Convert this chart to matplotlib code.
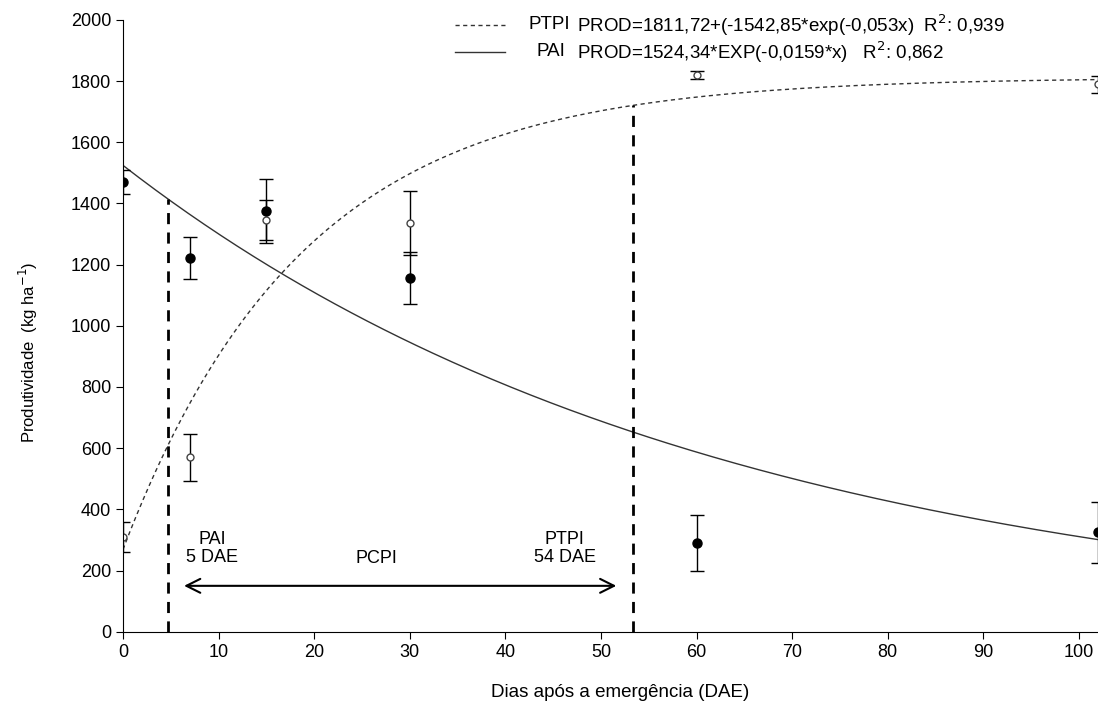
import numpy as np
import matplotlib.pyplot as plt
import matplotlib

matplotlib.rcParams['font.family'] = ['Liberation Sans', 'DejaVu Sans']

# observed means and standard errors
dias = [0, 7, 15, 30, 60, 102]
pai_obs = [1470, 1222, 1375, 1155, 290, 325]
pai_err = [40, 68, 105, 85, 90, 100]
ptpi_obs = [310, 570, 1345, 1335, 1820, 1790]
ptpi_err = [50, 77, 65, 105, 12, 28]

# fitted model coefficients (from the legend)
pai_a, pai_b = 1524.34, -0.0159
ptpi_a, ptpi_b, ptpi_c = 1811.72, -1542.85, -0.053

pai_dae = 4.7
ptpi_dae = 53.4

fig = plt.figure(figsize=(10.98, 7.09), dpi=100)
ax = fig.add_axes([0.112, 0.109, 0.888, 0.863])
ax.spines['right'].set_color('none')
ax.spines['top'].set_color('none')

x = np.linspace(0, 102, 300)
ax.plot(x, pai_a * np.exp(pai_b * x), color='#333333', lw=1)
ax.plot(x, ptpi_a + ptpi_b * np.exp(ptpi_c * x), color='#333333', lw=1,
        linestyle=(0, (3, 2.5)))

ax.errorbar(dias, pai_obs, yerr=pai_err, fmt='o', color='black', ms=6.5,
            ecolor='black', elinewidth=1, capsize=5)
ax.errorbar(dias, ptpi_obs, yerr=ptpi_err, fmt='o', mfc='white', mec='#444444',
            ms=5, ecolor='black', elinewidth=1, capsize=5)

# critical period limits
ax.plot([pai_dae, pai_dae], [0, pai_a * np.exp(pai_b * pai_dae)], color='black',
        lw=2, linestyle=(0, (4, 3)))
ax.plot([ptpi_dae, ptpi_dae], [0, ptpi_a + ptpi_b * np.exp(ptpi_c * ptpi_dae)],
        color='black', lw=2, linestyle=(0, (4, 3)))
ax.annotate('', xy=(6.1, 150), xytext=(51.9, 150),
            arrowprops=dict(arrowstyle='<->', color='black', lw=1.5,
                            mutation_scale=25))
ax.text(9.3, 272, 'PAI\n5 DAE', ha='center', va='center', fontsize=13, linespacing=1.05)
ax.text(26.5, 240, 'PCPI', ha='center', va='center', fontsize=13)
ax.text(46.2, 272, 'PTPI\n54 DAE', ha='center', va='center', fontsize=13, linespacing=1.05)

ax.set_xlim(0, 102)
ax.set_ylim(0, 2000)
ax.set_xticks(range(0, 101, 10))
ax.set_yticks(range(0, 2001, 200))
ax.tick_params(direction='out', length=5, labelsize=13)
ax.set_xlabel('Dias após a emergência (DAE)', fontsize=13.5)
ax.xaxis.set_label_coords(0.51, -0.085)
ax.set_ylabel('Produtividade  (kg ha$^{-1}$)', fontsize=12)
ax.yaxis.set_label_coords(-0.085, 0.457)

# legend drawn as figure text
fig.lines.append(plt.Line2D([0.414, 0.46], [0.965, 0.965], transform=fig.transFigure,
                            color='#333333', lw=1, linestyle=(0, (3, 2.5))))
fig.lines.append(plt.Line2D([0.414, 0.46], [0.927, 0.927], transform=fig.transFigure,
                            color='#333333', lw=1))
fig.text(0.481, 0.965, 'PTPI', fontsize=13.5, va='center')
fig.text(0.5255, 0.965, 'PROD=1811,72+(-1542,85*exp(-0,053x)  R$^2$: 0,939',
         fontsize=13.5, va='center')
fig.text(0.489, 0.927, 'PAI', fontsize=13.5, va='center')
fig.text(0.5255, 0.927, 'PROD=1524,34*EXP(-0,0159*x)   R$^2$: 0,862',
         fontsize=13.5, va='center')

fig.savefig('out.png', dpi=100)
